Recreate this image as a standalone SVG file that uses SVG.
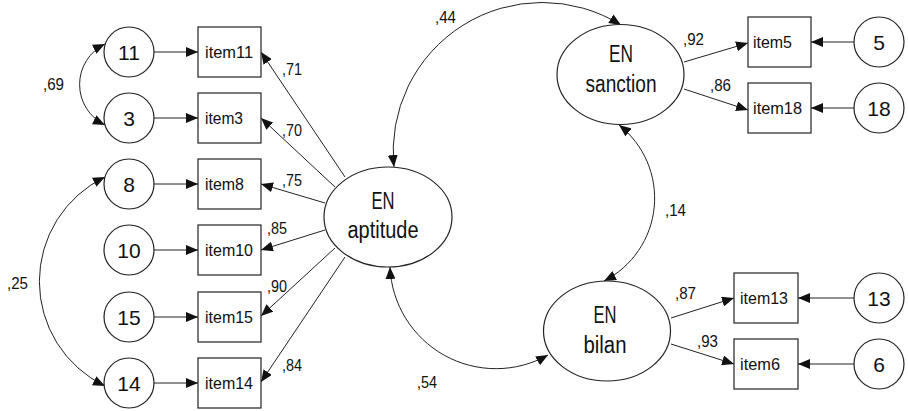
<svg xmlns="http://www.w3.org/2000/svg" width="908" height="411" viewBox="0 0 908 411">
<style>
.box{fill:#fff;stroke:#222;stroke-width:1.2}
.circ{fill:#fff;stroke:#222;stroke-width:1.2}
.ell{fill:#fff;stroke:#222;stroke-width:1.2}
.num{font-family:"Liberation Sans",Arial,sans-serif;font-size:21px;fill:#111;text-anchor:middle}
.item{font-family:"Liberation Sans",Arial,sans-serif;font-size:17px;fill:#111}
.lat{font-family:"Liberation Sans",Arial,sans-serif;font-size:23px;fill:#111;text-anchor:middle}
.lbl{font-family:"Liberation Sans",Arial,sans-serif;font-size:16.5px;fill:#111}
.c{fill:none;stroke:#222;stroke-width:1;marker-end:url(#ah)}
.b{fill:none;stroke:#222;stroke-width:1;marker-start:url(#ah);marker-end:url(#ah)}
</style>
<defs>
<marker id="ah" viewBox="0 0 12 10" refX="12" refY="5" markerWidth="12" markerHeight="10" markerUnits="userSpaceOnUse" orient="auto-start-reverse">
<path d="M0,0L12,5L0,10z" fill="#111"/>
</marker>
</defs>
<rect width="908" height="411" fill="#fff"/>

<g id="connectors">
<line class="c" x1="154" y1="52" x2="198" y2="52"/>
<line class="c" x1="154" y1="118" x2="198" y2="118"/>
<line class="c" x1="154" y1="184" x2="198" y2="184"/>
<line class="c" x1="154" y1="250" x2="198" y2="250"/>
<line class="c" x1="154" y1="317" x2="198" y2="317"/>
<line class="c" x1="154" y1="383" x2="198" y2="383"/>
<line class="c" x1="345" y1="177" x2="261" y2="52"/>
<line class="c" x1="335" y1="187" x2="261" y2="118"/>
<line class="c" x1="325" y1="203" x2="261" y2="184"/>
<line class="c" x1="325" y1="230" x2="261" y2="250"/>
<line class="c" x1="335" y1="248" x2="261" y2="316"/>
<line class="c" x1="345" y1="257" x2="261" y2="382"/>
<line class="c" x1="684" y1="62" x2="748" y2="43"/>
<line class="c" x1="684" y1="89" x2="748" y2="110"/>
<line class="c" x1="671" y1="318" x2="734" y2="298"/>
<line class="c" x1="671" y1="344" x2="734" y2="364"/>
<line class="c" x1="854" y1="42" x2="811" y2="42"/>
<line class="c" x1="854" y1="108" x2="811" y2="108"/>
<line class="c" x1="854" y1="298" x2="798" y2="298"/>
<line class="c" x1="854" y1="364" x2="798" y2="364"/>
<path class="b" d="M105,44 A45,45 0 0,0 105,125"/>
<path class="b" d="M105,177 A116,116 0 0,0 105,386"/>
<path class="b" d="M394,167 A149,149 0 0,1 621,25"/>
<path class="b" d="M390,267 A106,106 0 0,0 548,355"/>
<path class="b" d="M619,125 A93,93 0 0,1 604,281"/>
</g>

<g id="labels">
<text class="lbl" x="282" y="75" textLength="20" lengthAdjust="spacingAndGlyphs">,71</text>
<text class="lbl" x="282" y="136" textLength="20" lengthAdjust="spacingAndGlyphs">,70</text>
<text class="lbl" x="282" y="186" textLength="20" lengthAdjust="spacingAndGlyphs">,75</text>
<text class="lbl" x="267" y="234" textLength="20" lengthAdjust="spacingAndGlyphs">,85</text>
<text class="lbl" x="267" y="292" textLength="20" lengthAdjust="spacingAndGlyphs">,90</text>
<text class="lbl" x="282" y="371" textLength="20" lengthAdjust="spacingAndGlyphs">,84</text>
<text class="lbl" x="43" y="90" textLength="21" lengthAdjust="spacingAndGlyphs">,69</text>
<text class="lbl" x="7" y="289" textLength="21" lengthAdjust="spacingAndGlyphs">,25</text>
<text class="lbl" x="417" y="388" textLength="20" lengthAdjust="spacingAndGlyphs">,54</text>
<text class="lbl" x="435" y="23" textLength="21" lengthAdjust="spacingAndGlyphs">,44</text>
<text class="lbl" x="683" y="45" textLength="21" lengthAdjust="spacingAndGlyphs">,92</text>
<text class="lbl" x="710" y="91" textLength="21" lengthAdjust="spacingAndGlyphs">,86</text>
<text class="lbl" x="665" y="216" textLength="21" lengthAdjust="spacingAndGlyphs">,14</text>
<text class="lbl" x="675" y="299" textLength="21" lengthAdjust="spacingAndGlyphs">,87</text>
<text class="lbl" x="697" y="347" textLength="21" lengthAdjust="spacingAndGlyphs">,93</text>
</g>

<g id="e11"><circle class="circ" cx="129" cy="52" r="25"/><text class="num" x="129" y="59.5">11</text></g>
<g id="e3"><circle class="circ" cx="129" cy="118" r="25"/><text class="num" x="129" y="125.5">3</text></g>
<g id="e8"><circle class="circ" cx="129" cy="184" r="25"/><text class="num" x="129" y="191.5">8</text></g>
<g id="e10"><circle class="circ" cx="129" cy="250" r="25"/><text class="num" x="129" y="257.5">10</text></g>
<g id="e15"><circle class="circ" cx="129" cy="317" r="25"/><text class="num" x="129" y="324.5">15</text></g>
<g id="e14"><circle class="circ" cx="129" cy="383" r="25"/><text class="num" x="129" y="390.5">14</text></g>

<g id="item11"><rect class="box" x="198" y="27" width="63" height="50"/><text class="item" x="205" y="58" textLength="48" lengthAdjust="spacingAndGlyphs">item11</text></g>
<g id="item3"><rect class="box" x="198" y="93" width="63" height="50"/><text class="item" x="205" y="124" textLength="38" lengthAdjust="spacingAndGlyphs">item3</text></g>
<g id="item8"><rect class="box" x="198" y="159" width="63" height="50"/><text class="item" x="205" y="190" textLength="39" lengthAdjust="spacingAndGlyphs">item8</text></g>
<g id="item10"><rect class="box" x="198" y="225" width="63" height="50"/><text class="item" x="205" y="256" textLength="48" lengthAdjust="spacingAndGlyphs">item10</text></g>
<g id="item15"><rect class="box" x="198" y="292" width="63" height="50"/><text class="item" x="205" y="323" textLength="48" lengthAdjust="spacingAndGlyphs">item15</text></g>
<g id="item14"><rect class="box" x="198" y="358" width="63" height="50"/><text class="item" x="205" y="389" textLength="48" lengthAdjust="spacingAndGlyphs">item14</text></g>

<g id="aptitude"><ellipse class="ell" cx="388" cy="217" rx="64" ry="50"/>
<text class="lat" x="383" y="209" textLength="23" lengthAdjust="spacingAndGlyphs">EN</text>
<text class="lat" x="383" y="238" textLength="71" lengthAdjust="spacingAndGlyphs">aptitude</text></g>

<g id="sanction"><ellipse class="ell" cx="620.5" cy="74.5" rx="63.5" ry="50"/>
<text class="lat" x="621" y="62" textLength="24" lengthAdjust="spacingAndGlyphs">EN</text>
<text class="lat" x="621" y="92" textLength="71" lengthAdjust="spacingAndGlyphs">sanction</text></g>

<g id="bilan"><ellipse class="ell" cx="607" cy="331" rx="63.5" ry="50"/>
<text class="lat" x="605" y="323" textLength="23" lengthAdjust="spacingAndGlyphs">EN</text>
<text class="lat" x="605" y="353" textLength="43" lengthAdjust="spacingAndGlyphs">bilan</text></g>

<g id="item5"><rect class="box" x="748" y="17" width="63" height="50"/><text class="item" x="753" y="48" textLength="39" lengthAdjust="spacingAndGlyphs">item5</text></g>
<g id="item18"><rect class="box" x="748" y="83" width="63" height="50"/><text class="item" x="753" y="114" textLength="49" lengthAdjust="spacingAndGlyphs">item18</text></g>
<g id="item13"><rect class="box" x="734" y="273" width="64" height="50"/><text class="item" x="740" y="304" textLength="48" lengthAdjust="spacingAndGlyphs">item13</text></g>
<g id="item6"><rect class="box" x="734" y="339" width="64" height="50"/><text class="item" x="740" y="370" textLength="40" lengthAdjust="spacingAndGlyphs">item6</text></g>

<g id="e5"><circle class="circ" cx="879" cy="42" r="25"/><text class="num" x="879" y="49.5">5</text></g>
<g id="e18"><circle class="circ" cx="879" cy="108" r="25"/><text class="num" x="879" y="115.5">18</text></g>
<g id="e13"><circle class="circ" cx="879" cy="298" r="25"/><text class="num" x="879" y="305.5">13</text></g>
<g id="e6"><circle class="circ" cx="879" cy="364" r="25"/><text class="num" x="879" y="371.5">6</text></g>
</svg>
